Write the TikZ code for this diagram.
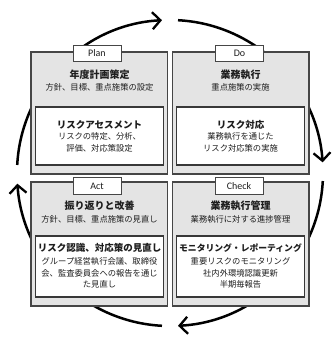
\documentclass[tikz,border=0pt]{standalone}
\usepackage{fontspec}
\setmainfont{Noto Sans CJK JP}
\newfontfamily\tabfont{Carlito}
\usetikzlibrary{arrows.meta}
\definecolor{boxgray}{RGB}{228,228,228}
\definecolor{edgegray}{RGB}{70,70,70}
\definecolor{txt}{RGB}{30,30,30}
\tikzset{
  outerbox/.style={draw=edgegray, line width=1.3pt, fill=boxgray, minimum width=136.5pt, inner sep=0pt},
  innerbox/.style={draw=edgegray!80!black, line width=1.2pt, fill=white, minimum width=128pt, inner sep=0pt},
  tabbox/.style={draw=edgegray, line width=1pt, fill=white, minimum width=48pt, minimum height=16.5pt, inner sep=0pt, font=\tabfont\fontsize{10}{11}\selectfont, text=txt},
  ttl/.style={font=\bfseries\fontsize{10}{12}\selectfont, text=txt, inner sep=0pt},
  ititle/.style={font=\bfseries\fontsize{9.5}{11}\selectfont, text=txt, inner sep=0pt},
  sub/.style={font=\fontsize{8.3}{11.5}\selectfont, text=txt, align=center, inner sep=0pt},
  cyc/.style={line width=2.5pt, black, -{Straight Barb[length=8pt, width=17pt, line width=2.3pt]}}
}
\begin{document}
\begin{tikzpicture}[x=1pt, y=-1pt]
\useasboundingbox (0,0) rectangle (336,337);
% cycle arrows
\coordinate (c) at (170,173);
\coordinate (s1) at ([shift={(177:153pt)}]c);
\coordinate (s2) at ([shift={(87:153pt)}]c);
\coordinate (s3) at ([shift={(-3:153pt)}]c);
\coordinate (s4) at ([shift={(-93:153pt)}]c);
\draw[cyc] (s1) arc[start angle=177, end angle=93, radius=153pt];
\draw[cyc] (s2) arc[start angle=87, end angle=4, radius=153pt];
\draw[cyc] (s3) arc[start angle=-3, end angle=-87, radius=153pt];
\draw[cyc] (s4) arc[start angle=-93, end angle=-176, radius=153pt];
% outer boxes
\node[outerbox, minimum height=122pt] (plan) at (99.25,113) {};
\node[outerbox, minimum height=122pt] (do) at (240.75,113) {};
\node[outerbox, minimum height=124pt] (act) at (99.25,244) {};
\node[outerbox, minimum height=124pt] (check) at (240.75,244) {};
% inner boxes
\node[innerbox, minimum height=58pt] (planin) at (99.5,136) {};
\node[innerbox, minimum height=58pt] (doin) at (240.75,136) {};
\node[innerbox, minimum height=61pt] (actin) at (99.5,266.5) {};
\node[innerbox, minimum height=61pt] (checkin) at (240.75,266.5) {};
% tabs
\node[tabbox] (plantab) at (97,53.5) {Plan};
\node[tabbox] (dotab) at (239.5,53.5) {Do};
\node[tabbox] (acttab) at (97,186) {Act};
\node[tabbox] (checktab) at (239,186) {Check};
% Plan texts
\node[ttl] (plant) at (99.5,75) {年度計画策定};
\node[sub] (plans) at (99.5,87.5) {方針、目標、重点施策の設定};
\node[ititle] (planit) at (99.5,125) {リスクアセスメント};
\node[sub] (planis) at (99.5,142.5) {リスクの特定、分析、\\評価、対応策設定};
% Do texts
\node[ttl] (dot) at (240.5,75) {業務執行};
\node[sub] (dos) at (240.5,87.5) {重点施策の実施};
\node[ititle] (doit) at (240.5,125) {リスク対応};
\node[sub] (dois) at (240.5,142.5) {業務執行を通じた\\リスク対応策の実施};
% Act texts
\node[ttl] (actt) at (99.5,206) {振り返りと改善};
\node[sub] (acts) at (99.5,219) {方針、目標、重点施策の見直し};
\node[ititle] (actit) at (99.5,248) {リスク認識、対応策の見直し};
\node[sub] (actis) at (99.5,273) {グループ経営執行会議、取締役\\会、監査委員会への報告を通じ\\た見直し};
% Check texts
\node[ttl] (checkt) at (240.5,206) {業務執行管理};
\node[sub] (checks) at (240.5,219) {業務執行に対する進捗管理};
\node[ititle, font=\bfseries\fontsize{8.8}{11}\selectfont] (checkit) at (240.5,248) {モニタリング・レポーティング};
\node[sub] (checkis) at (240.5,273) {重要リスクのモニタリング\\社内外環境認識更新\\半期毎報告};
\end{tikzpicture}
\end{document}
